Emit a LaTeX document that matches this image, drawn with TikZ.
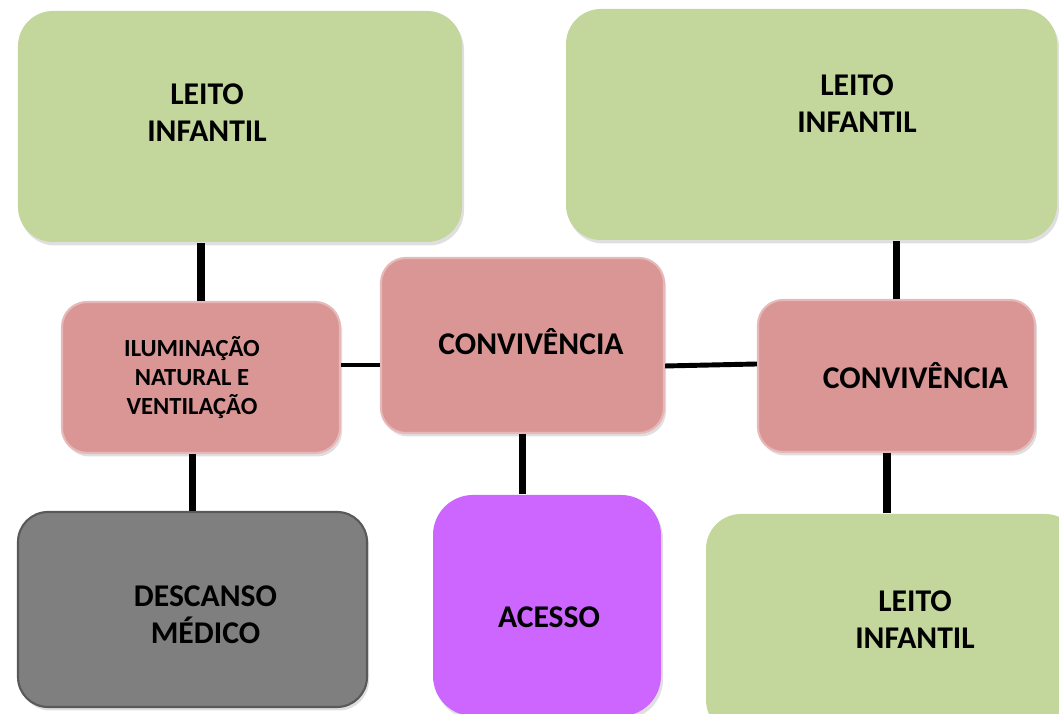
\documentclass[tikz,border=0pt]{standalone}
\usepackage{fontspec}
\setmainfont{Carlito}
\usetikzlibrary{shapes}
\usetikzlibrary{shadows}

\definecolor{verde}{HTML}{C3D69B}
\definecolor{rosa}{HTML}{D99694}
\definecolor{rosaborda}{HTML}{E6B9B8}
\definecolor{lilas}{HTML}{CC66FF}
\definecolor{cinza}{HTML}{7F7F7F}
\definecolor{cinzaborda}{HTML}{595959}

\tikzset{
  caixa/.style={rectangle, inner sep=0pt, drop shadow={shadow xshift=0.02cm, shadow yshift=-0.035cm, opacity=0.25}},
  txt/.style={font=\fontsize{9}{10.5}\selectfont\bfseries, align=center, inner sep=0pt},
  txtpeq/.style={font=\fontsize{7}{8.3}\selectfont\bfseries, align=center, inner sep=0pt},
  liga/.style={line width=2pt},
  ligah/.style={line width=1.4pt}
}

\begin{document}
\begin{tikzpicture}
        \useasboundingbox (0,0) rectangle (10.59,7.14);
        \node[caixa, fill=verde, rounded corners=0.35cm, minimum width=4.44cm, minimum height=2.31cm, label={[txt, xshift=-0.33cm, yshift=0.135cm]center:LEITO\\INFANTIL}] (leito_esq) at (2.40,5.875) {};
        \node[caixa, fill=verde, rounded corners=0.35cm, minimum width=4.91cm, minimum height=2.31cm, label={[txt, xshift=0.455cm, yshift=0.205cm]center:LEITO\\INFANTIL}] (leito_dir) at (8.115,5.895) {};
        \node[caixa, fill=rosa, draw=rosaborda, line width=0.6pt, rounded corners=0.25cm, minimum width=2.78cm, minimum height=1.51cm, label={[txtpeq, xshift=-0.09cm]center:ILUMINAÇÃO\\NATURAL E\\VENTILAÇÃO}] (ilum) at (2.01,3.365) {};
        \node[caixa, fill=rosa, draw=rosaborda, line width=0.6pt, rounded corners=0.25cm, minimum width=2.83cm, minimum height=1.75cm, label={[txt, xshift=0.085cm, yshift=0.04cm]center:CONVIVÊNCIA}] (conv_centro) at (5.225,3.685) {};
        \node[caixa, fill=rosa, draw=rosaborda, line width=0.6pt, rounded corners=0.25cm, minimum width=2.77cm, minimum height=1.52cm, label={[txt, xshift=0.19cm, yshift=0cm]center:CONVIVÊNCIA}] (conv_dir) at (8.965,3.38) {};
        \node[caixa, fill=cinza, draw=cinzaborda, line width=0.6pt, rounded corners=0.3cm, minimum width=3.49cm, minimum height=1.95cm, label={[txt, xshift=0.13cm, yshift=-0.055cm]center:DESCANSO\\MÉDICO}] (descanso) at (1.925,1.045) {};
        \node[caixa, fill=lilas, rounded corners=0.4cm, minimum width=2.28cm, minimum height=2.21cm, label={[txt, xshift=0.02cm, yshift=-0.115cm]center:ACESSO}] (acesso) at (5.47,1.085) {};
        \node[caixa, fill=verde, rounded corners=0.35cm, minimum width=3.74cm, minimum height=2.21cm, label={[txt, xshift=0.22cm, yshift=0.045cm]center:LEITO\\INFANTIL}] (leito_inf) at (8.93,0.895) {};
        
        
        \draw[liga] (ilum.north) -- (ilum.north |- leito_esq.south);
        \draw[liga] (descanso.north) -- (descanso.north |- ilum.south);
        \draw[liga] (conv_centro.south) -- (conv_centro.south |- acesso.north);
        \draw[liga] (conv_dir.north) -- (conv_dir.north |- leito_dir.south);
        \draw[liga] ([xshift=-0.095cm]conv_dir.south) coordinate (c_baixo) -- (c_baixo |- leito_inf.north);
        \draw[ligah] ([yshift=0.125cm]ilum.east) coordinate (c_esq) -- (c_esq -| conv_centro.west);
        \draw[ligah] ([yshift=-0.205cm]conv_centro.east) -- ([yshift=0.12cm]conv_dir.west);
        \end{tikzpicture}
\end{document}
